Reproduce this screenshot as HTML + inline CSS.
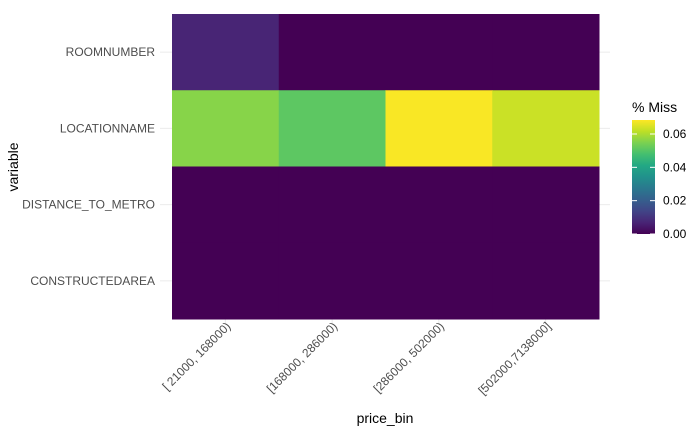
<!DOCTYPE html>
<html><head><meta charset="utf-8"><style>
body{margin:0;background:#fff;}
svg{display:block;font-family:"Liberation Sans",sans-serif;}
</style></head><body>
<svg width="700" height="432" viewBox="0 0 700 432">
<defs>
<linearGradient id="vir" x1="0" y1="1" x2="0" y2="0">
<stop offset="0" stop-color="#440154"/><stop offset="0.1" stop-color="#482475"/><stop offset="0.2" stop-color="#414487"/><stop offset="0.3" stop-color="#355f8d"/><stop offset="0.4" stop-color="#2a788e"/><stop offset="0.5" stop-color="#21918c"/><stop offset="0.6" stop-color="#22a884"/><stop offset="0.7" stop-color="#44bf70"/><stop offset="0.8" stop-color="#7ad151"/><stop offset="0.9" stop-color="#bddf26"/><stop offset="1" stop-color="#fde725"/>
</linearGradient>
</defs>
<g id="grid"></g>
<g id="cells"></g>
<g id="axes"></g>
<text x="385" y="423" font-size="14" text-anchor="middle" fill="#000">price_bin</text>
<text transform="translate(18,167) rotate(-90)" font-size="14" text-anchor="middle" fill="#000">variable</text>
<g>
<text x="632" y="112" font-size="14" fill="#000">% Miss</text>
<rect x="632" y="120" width="23" height="114" fill="url(#vir)"/>
<g id="legticks"></g>
</g>
</svg>
<script>
const categories = ["[ 21000, 168000)","[168000, 286000)","[286000, 502000)","[502000,7138000]"];
const variables = ["ROOMNUMBER","LOCATIONNAME","DISTANCE_TO_METRO","CONSTRUCTEDAREA"];
const valRoom = [0.007,0,0,0];
const valLoc = [0.056,0.051,0.068,0.063];
const valDist = [0,0,0,0];
const valArea = [0,0,0,0];
const legendTicks = [0,0.02,0.04,0.06];
const series = [valRoom,valLoc,valDist,valArea];

const NS="http://www.w3.org/2000/svg";
const x0=172,x1=599,y0=14,y1=319;
const cw=(x1-x0)/categories.length, rh=(y1-y0)/variables.length;
const vmax=0.0684;
const xC=i=>x0+cw*(i+0.5), yC=j=>y0+rh*(j+0.5);
const stops=["#440154","#482475","#414487","#355f8d","#2a788e","#21918c","#22a884","#44bf70","#7ad151","#bddf26","#fde725"];
function hex(h){return [1,3,5].map(k=>parseInt(h.substr(k,2),16));}
function vir(v){let t=Math.max(0,Math.min(1,v/vmax))*10;let i=Math.min(9,Math.floor(t));let f=t-i;
 const a=hex(stops[i]),b=hex(stops[i+1]);return "rgb("+a.map((c,k)=>Math.round(c+(b[k]-c)*f)).join(",")+")";}
function mk(tag,attrs,parent){const e=document.createElementNS(NS,tag);for(const k in attrs)e.setAttribute(k,attrs[k]);parent.appendChild(e);return e;}
const grid=document.getElementById('grid'),cells=document.getElementById('cells'),axes=document.getElementById('axes');
variables.forEach((v,j)=>{
 const l=mk('line',{x1:160,x2:610,y1:yC(j),y2:yC(j),stroke:'#ebebeb','stroke-width':1},grid);
 
 
 const t=mk('text',{x:155,y:yC(j)+4,'font-size':12,'text-anchor':'end',fill:'#4d4d4d'},axes);
 t.textContent=v;
 
 
});
categories.forEach((c,i)=>{
 const l=mk('line',{x1:xC(i),x2:xC(i),y1:14,y2:325,stroke:'#ebebeb','stroke-width':1},grid);
 
 
 const t=mk('text',{transform:`translate(${xC(i)+6},${327}) rotate(-45)`,'font-size':12,'text-anchor':'end',fill:'#4d4d4d'},axes);
 t.textContent=c;
 
 
});
series.forEach((row,j)=>row.forEach((v,i)=>{
 const r=mk('rect',{x:x0+cw*i,y:y0+rh*j,width:cw+0.5,height:rh+0.5,fill:vir(v)},cells);
 
 
}));
const lt=document.getElementById('legticks');
legendTicks.forEach(v=>{
 const y=234-v/vmax*114;
 mk('line',{x1:632,x2:637,y1:y,y2:y,stroke:'#fff','stroke-width':1},lt);
 mk('line',{x1:650,x2:655,y1:y,y2:y,stroke:'#fff','stroke-width':1},lt);
 const t=mk('text',{x:663,y:y+4,'font-size':12,fill:'#000'},lt);
 t.textContent=v.toFixed(2);
 
 
});
</script>
</body></html>
